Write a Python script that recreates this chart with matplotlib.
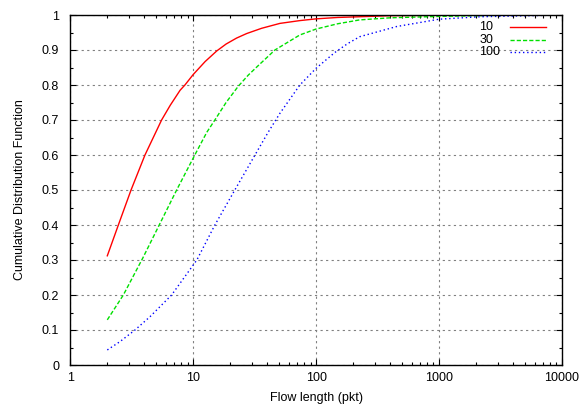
import matplotlib
matplotlib.use("Agg")
import matplotlib.pyplot as plt
from matplotlib.ticker import FixedLocator, FixedFormatter, LogLocator, NullFormatter, MultipleLocator

plt.rcParams['font.family'] = ['Liberation Sans', 'DejaVu Sans']

# Данные
x_10 = [2, 2.46, 3.12, 4.05, 5.53, 6.5, 7.82, 8.56, 10, 12.5, 15.5, 18.5, 22.5, 27.2, 36,
        50.7, 73.7, 100, 150, 226, 400, 1000, 3000, 10000]
y_10 = [0.312, 0.40, 0.50, 0.60, 0.70, 0.742, 0.785, 0.80, 0.83, 0.867, 0.897, 0.917, 0.934, 0.947, 0.962,
        0.976, 0.984, 0.989, 0.993, 0.995, 0.998, 0.999, 1.0, 1.0]

x_30 = [2, 2.70, 3.88, 5.29, 7.33, 10.3, 12.9, 15.0, 18.5, 23.2, 28, 33, 46.2, 73.7, 100, 150, 226,
        400, 1000, 3000, 10000]
y_30 = [0.129, 0.2, 0.305, 0.4, 0.5, 0.6, 0.665, 0.7, 0.75, 0.796, 0.828, 0.852, 0.9, 0.943, 0.96, 0.975, 0.986,
        0.992, 0.996, 0.999, 1.0]

x_100 = [2, 2.54, 3.36, 4.45, 6.67, 10.7, 15.0, 21.8, 31.8, 40.7, 50.7, 73.7, 100, 142, 180, 226, 451,
         1000, 2150, 10000]
y_100 = [0.043, 0.067, 0.1, 0.138, 0.2, 0.3, 0.4, 0.5, 0.6, 0.665, 0.719, 0.8, 0.848, 0.893, 0.918, 0.938, 0.967,
         0.988, 0.995, 1.0]

labels = ["10", "30", "100"]
x_ticks = [1, 10, 100, 1000, 10000]
x_tick_labels = ["1", "10", "100", "1000", "10000"]
y_ticks = [0, 0.1, 0.2, 0.3, 0.4, 0.5, 0.6, 0.7, 0.8, 0.9, 1.0]
y_tick_labels = ["0", "0.1", "0.2", "0.3", "0.4", "0.5", "0.6", "0.7", "0.8", "0.9", "1"]

colors = ['#ff0000', '#00e000', '#0000ff']
styles = ['-', (0, (3, 1.5)), (0, (1, 2))]

fig = plt.figure(figsize=(5.81, 4.07), dpi=100)
ax = fig.add_axes([70.3 / 581, 42 / 407, 491.7 / 581, 350 / 407])

series = [(x_10, y_10), (x_30, y_30), (x_100, y_100)]
for (xs, ys), c, ls in zip(series, colors, styles):
    ax.plot(xs, ys, color=c, lw=1.0, ls=ls)

ax.set_xscale('log')
ax.set_xlim(1, 10000)
ax.set_ylim(0, 1)

ax.xaxis.set_major_locator(FixedLocator(x_ticks))
ax.xaxis.set_major_formatter(FixedFormatter(x_tick_labels))
ax.xaxis.set_minor_locator(LogLocator(base=10, subs=range(2, 10)))
ax.xaxis.set_minor_formatter(NullFormatter())
ax.yaxis.set_major_locator(FixedLocator(y_ticks))
ax.yaxis.set_major_formatter(FixedFormatter(y_tick_labels))
ax.yaxis.set_minor_locator(MultipleLocator(0.05))

ax.tick_params(which='both', direction='in', top=True, right=True, labelsize=9, width=0.8)
ax.tick_params(which='major', length=4)
ax.tick_params(which='minor', length=2)
ax.tick_params(axis='y', pad=8)
ax.tick_params(axis='x', pad=5)

ax.grid(True, which='major', color='#808080', lw=0.8, ls=(0, (2, 3)))

for s in ax.spines.values():
    s.set_linewidth(1.0)

ax.set_xlabel("Flow length (pkt)", fontsize=9)
ax.set_ylabel("Cumulative Distribution Function", fontsize=9)
ax.xaxis.set_label_coords(0.5, -0.077)
ax.yaxis.set_label_coords(-0.09, 0.5)

# Легенда в стиле gnuplot: подпись слева, образец линии справа
leg_rows = [0.9666, 0.9286, 0.8934]
for lab, c, ls, yr in zip(labels, colors, styles, leg_rows):
    ax.text(0.832, yr, lab, transform=ax.transAxes, fontsize=9, ha='left', va='center')
    ax.plot([0.894, 0.9675], [yr, yr], transform=ax.transAxes, color=c, lw=1.0, ls=ls)

plt.savefig("out.png", dpi=100)
plt.close()
